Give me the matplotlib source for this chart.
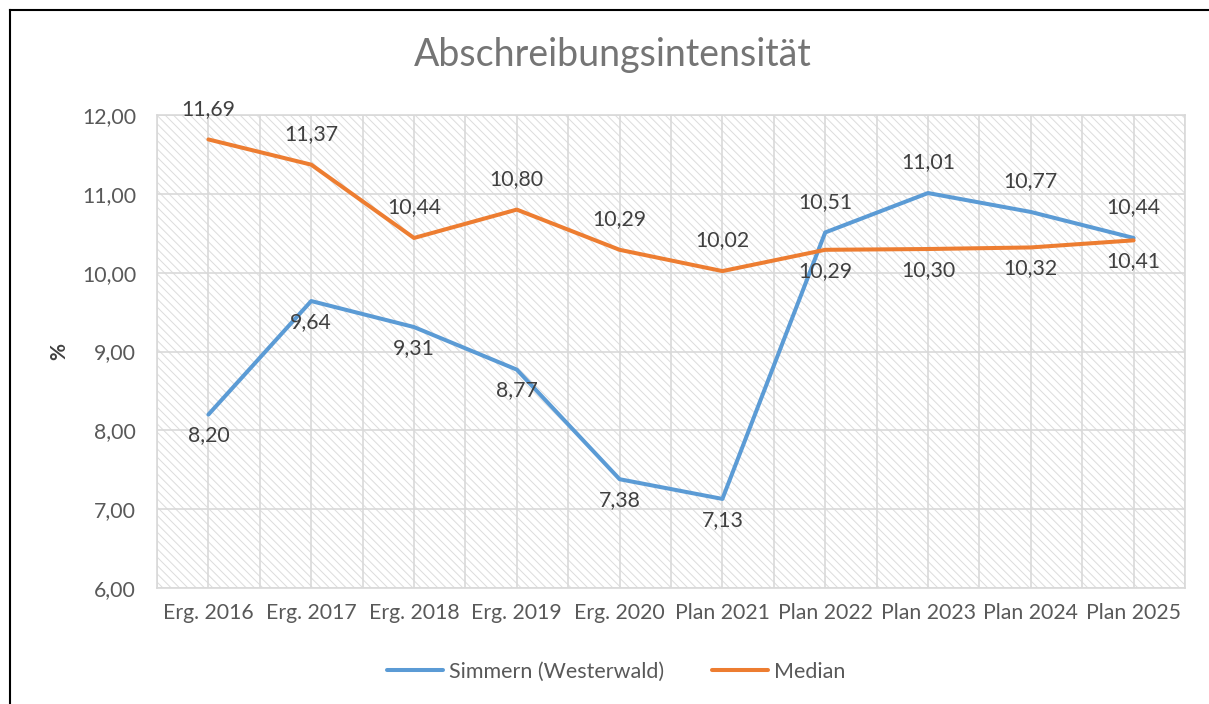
import matplotlib.pyplot as plt
from matplotlib.patches import Rectangle
from matplotlib.lines import Line2D

plt.rcParams['font.family'] = ['Lato', 'DejaVu Sans']
plt.rcParams['hatch.linewidth'] = 0.7

# Daten
kategorien = ['Erg. 2016', 'Erg. 2017', 'Erg. 2018', 'Erg. 2019', 'Erg. 2020',
              'Plan 2021', 'Plan 2022', 'Plan 2023', 'Plan 2024', 'Plan 2025']
simmern = [8.20, 9.64, 9.31, 8.77, 7.38, 7.13, 10.51, 11.01, 10.77, 10.44]
median = [11.69, 11.37, 10.44, 10.80, 10.29, 10.02, 10.29, 10.30, 10.32, 10.41]
# Beschriftung oberhalb (True) oder unterhalb (False)
simmern_oben = [False, False, False, False, False, False, True, True, True, True]
median_oben = [True, True, True, True, True, True, False, False, False, False]

grau = '#d9d9d9'
textgrau = '#595959'
blau = '#5b9bd5'
orange = '#ed7d31'

fig = plt.figure(figsize=(12.09, 7.04), dpi=100)
ax = fig.add_axes([157/1209, 1-588/704, (1185-157)/1209, (588-115)/704])

# schraffierter Hintergrund
ax.patch.set_visible(False)
ax.add_patch(Rectangle((0, 0), 1, 1, transform=ax.transAxes, facecolor='white',
                       edgecolor='#dcdcdc', lw=0, hatch='\\\\\\\\', zorder=0))

x = list(range(len(kategorien)))
ax.plot(x, simmern, color=blau, lw=2.9, solid_capstyle='round', label='Simmern (Westerwald)', zorder=3)
ax.plot(x, median, color=orange, lw=2.9, solid_capstyle='round', label='Median', zorder=3)

def beschriften(werte, oben):
    for xi, v, o in zip(x, werte, oben):
        ax.annotate(f'{v:.2f}'.replace('.', ','), (xi, v), xytext=(0, 22 if o else -15),
                    textcoords='offset points', ha='center', va='center',
                    fontsize=15.3, color='#404040', zorder=4)

beschriften(simmern, simmern_oben)
beschriften(median, median_oben)

ax.set_xlim(-0.5, 9.5)
ax.set_ylim(6, 12)
ax.set_yticks(range(6, 13))
ax.set_yticklabels([f'{v},00' for v in range(6, 13)])
ax.set_xticks(x)
ax.set_xticklabels(kategorien)
ax.set_xticks([i - 0.5 for i in range(11)], minor=True)
ax.tick_params(axis='both', which='both', length=0, colors=textgrau, labelsize=15.3)
ax.tick_params(axis='y', pad=15)
ax.tick_params(axis='x', pad=11)
ax.grid(True, which='both', color=grau, lw=1.2)
for s in ax.spines.values():
    s.set_color(grau)
    s.set_linewidth(1.2)

ax.set_ylabel('%', fontsize=15, color='#404040', fontweight='bold', labelpad=9)
fig.text(613/1209, 1-55/704, 'Abschreibungsintensität', ha='center', va='center',
         fontsize=27, color='#757575')

fig.legend(loc='center', bbox_to_anchor=(616/1209, 1-672/704), ncol=2, frameon=False,
           fontsize=15.5, handlelength=2.6, handletextpad=0.3, columnspacing=2.2,
           labelcolor=textgrau)

# Rahmen (teilweise abgeschnitten)
fig.add_artist(Line2D([10/1209, 1], [1-10/704, 1-10/704], color='black', lw=1.5))
fig.add_artist(Line2D([10/1209, 10/1209], [0, 1-10/704], color='black', lw=1.5))

fig.savefig('out.png', dpi=100)
